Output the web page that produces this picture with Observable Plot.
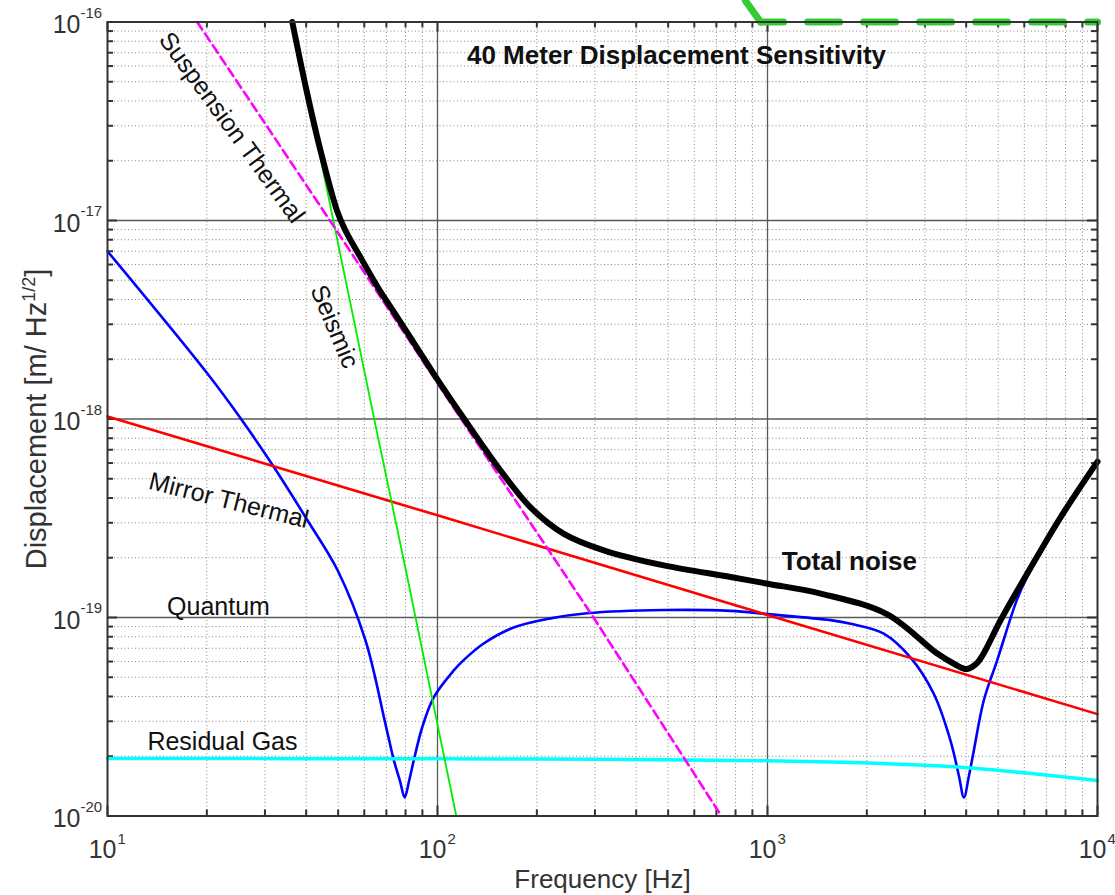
<!DOCTYPE html>
<html><head><meta charset="utf-8">
<script src="https://cdn.jsdelivr.net/npm/d3@7"></script>
<script src="https://cdn.jsdelivr.net/npm/@observablehq/plot@0.6"></script>
<style>html,body{margin:0;padding:0;background:#fff;overflow:hidden}</style>
</head><body><div id="chart"></div>
<script>
// ---- tick labels ----
const xTicks = [10, 100, 1000, 10000];
const xTickExp = ["1", "2", "3", "4"];
const yTicks = [1e-20, 1e-19, 1e-18, 1e-17, 1e-16];
const yTickExp = ["-20", "-19", "-18", "-17", "-16"];

// ---- series (frequency [Hz], displacement [m/Hz^1/2]) ----
const totalF = [36.3, 40.3, 44.2, 49.6, 52.6, 58.5, 66, 73.8, 86, 100, 117.6, 135, 151.6, 191, 241.5, 319, 485, 773, 1000, 1450, 2300, 3260, 3673, 4020, 4316, 4522, 5080, 6120, 7730, 10000];
const totalY = [1e-16, 4.35e-17, 2.25e-17, 1.12e-17, 8.9e-18, 6.5e-18, 4.6e-18, 3.45e-18, 2.33e-18, 1.58e-18, 1.06e-18, 7.6e-19, 5.8e-19, 3.6e-19, 2.64e-19, 2.18e-19, 1.83e-19, 1.6e-19, 1.48e-19, 1.32e-19, 1.04e-19, 6.6e-20, 5.85e-20, 5.5e-20, 5.9e-20, 6.6e-20, 9.66e-20, 1.66e-19, 3.2e-19, 6.1e-19];

const quantumF = [10, 20.1, 25.4, 32.0, 40.4, 49.8, 60.5, 69.5, 73.8, 77, 79.5, 82, 84.7, 89.9, 97.5, 112, 120, 138, 170, 220, 284, 485, 773, 1000, 1553, 1787, 2250, 2710, 3190, 3585, 3800, 3937, 4080, 4220, 4522, 4963, 5691, 6120, 7730, 10000];
const quantumY = [7.0e-18, 1.69e-18, 1.0e-18, 5.7e-19, 3.08e-19, 1.73e-19, 7.66e-20, 2.92e-20, 1.9e-20, 1.5e-20, 1.24e-20, 1.5e-20, 1.9e-20, 2.8e-20, 3.97e-20, 5.41e-20, 6.1e-20, 7.4e-20, 8.9e-20, 9.9e-20, 1.05e-19, 1.09e-19, 1.08e-19, 1.04e-19, 9.7e-20, 9.3e-20, 8.3e-20, 6.3e-20, 4.13e-20, 2.4e-20, 1.6e-20, 1.24e-20, 1.6e-20, 2.14e-20, 3.82e-20, 6.07e-20, 1.22e-19, 1.6e-19, 3.1e-19, 6.0e-19];

const gasF = [10, 100, 300, 1000, 1790, 3000, 4030, 6000, 10000];
const gasY = [1.95e-20, 1.94e-20, 1.93e-20, 1.9e-20, 1.86e-20, 1.8e-20, 1.75e-20, 1.65e-20, 1.51e-20];

const mirrorF = [10, 100, 1000, 10000];
const mirrorY = [1.03e-18, 3.27e-19, 1.03e-19, 3.26e-20];

const seismicF = [36.3, 43.1, 64.3, 80.2, 114];
const seismicY = [1e-16, 2.53e-17, 1e-18, 1.73e-19, 1e-20];

const suspF = [18.7, 47.2, 118, 297, 725];
const suspY = [1e-16, 1e-17, 1e-18, 1e-19, 1e-20];

// decorative green dashed overlay (top right)
const overlayF = [857, 953, 10000];
const overlayY = [1.28e-16, 1e-16, 1e-16];

// ---- annotation labels (anchor in data units) ----
const labelText = ["Suspension Thermal", "Seismic", "Mirror Thermal", "Quantum", "Residual Gas"];
const labelF = [23.8, 48.7, 23.3, 21.7, 22.3];
const labelY = [2.94e-17, 2.92e-18, 3.88e-19, 1.13e-19, 2.37e-20];
const labelRot = [54, 67, 14, 0, 0];

const titleText = "40 Meter Displacement Sensitivity";
const totalText = "Total noise";
const xLabel = "Frequency [Hz]";
const yLabel = "Displacement [m/ Hz1/2]";

const pts = (F, Y) => F.map((f, i) => ({f, y: Y[i]}));

const W = 1115, H = 895;
const mL = 107, mR = 18, mT = 21.5, mB = 79.5;
const innerW = W - mL - mR, innerH = H - mT - mB;

const isDecade = v => Math.abs(Math.log10(v) - Math.round(Math.log10(v))) < 1e-6;
const xAll = d3.scaleLog().domain([10, 1e4]).ticks();
const yAll = d3.scaleLog().domain([1e-20, 1e-16]).ticks();
const xMinor = xAll.filter(v => !isDecade(v));
const yMinor = yAll.filter(v => !isDecade(v));
const xInner = xTicks.slice(1, -1);
const yInner = yTicks.slice(1, -1);

const gridMinor = {stroke: "#8a8a8a", strokeWidth: 1, strokeDasharray: "1,2.5"};
const gridMajor = {stroke: "#5a5a5a", strokeWidth: 1.3};
const tk = {stroke: "#333", strokeWidth: 2};
const font = "Liberation Sans, Arial, Helvetica, sans-serif";

const plot = Plot.plot({
  width: W, height: H,
  marginLeft: mL, marginRight: mR, marginTop: mT, marginBottom: mB,
  style: {fontFamily: font, background: "white", overflow: "visible"},
  x: {type: "log", domain: [10, 1e4], axis: null},
  y: {type: "log", domain: [1e-20, 1e-16], axis: null},
  marks: [
    // grid
    Plot.ruleX(xMinor, gridMinor),
    Plot.ruleY(yMinor, gridMinor),
    Plot.ruleX(xInner, gridMajor),
    Plot.ruleY(yInner, gridMajor),
    // inward ticks
    Plot.tickX(xMinor, {x: d => d, insetTop: innerH - 6, ...tk}),
    Plot.tickX(xMinor, {x: d => d, insetBottom: innerH - 6, ...tk}),
    Plot.tickX(xTicks, {x: d => d, insetTop: innerH - 10, ...tk}),
    Plot.tickX(xTicks, {x: d => d, insetBottom: innerH - 10, ...tk}),
    Plot.tickY(yMinor, {y: d => d, insetRight: innerW - 6, ...tk}),
    Plot.tickY(yMinor, {y: d => d, insetLeft: innerW - 6, ...tk}),
    Plot.tickY(yTicks, {y: d => d, insetRight: innerW - 10, ...tk}),
    Plot.tickY(yTicks, {y: d => d, insetLeft: innerW - 10, ...tk}),
    // curves
    Plot.line(pts(quantumF, quantumY), {x: "f", y: "y", stroke: "#0000ff", strokeWidth: 2.6, curve: "catmull-rom"}),
    Plot.line(pts(gasF, gasY), {x: "f", y: "y", stroke: "#00ffff", strokeWidth: 3.5, curve: "catmull-rom"}),
    Plot.line(pts(mirrorF, mirrorY), {x: "f", y: "y", stroke: "#ff0000", strokeWidth: 2.6}),
    Plot.line(pts(seismicF, seismicY), {x: "f", y: "y", stroke: "#00ee00", strokeWidth: 1.8}),
    Plot.line(pts(suspF, suspY), {x: "f", y: "y", stroke: "#ff00ff", strokeWidth: 2.6, strokeDasharray: "9,5"}),
    Plot.line(pts(totalF, totalY), {x: "f", y: "y", stroke: "#000", strokeWidth: 6, curve: "catmull-rom", strokeLinejoin: "round"}),
    // overlay
    Plot.line(pts(overlayF.slice(0, 2), overlayY.slice(0, 2)), {x: "f", y: "y", stroke: "#33cc33", strokeWidth: 7}),
    Plot.line(pts(overlayF.slice(1), overlayY.slice(1)), {x: "f", y: "y", stroke: "#33cc33", strokeWidth: 7, strokeDasharray: "32,24", strokeDashoffset: 9}),
    // labels
    Plot.text(labelText, {x: (d, i) => labelF[i], y: (d, i) => labelY[i], text: d => d, rotate: (d, i) => labelRot[i], fontSize: 25, fill: "#111"}),
    Plot.text([titleText], {x: () => 530, y: () => 6.78e-17, text: d => d, fontSize: 26, fontWeight: "bold", fill: "#111"}),
    Plot.text([totalText], {x: () => 1770, y: () => 1.91e-19, text: d => d, fontSize: 26, fontWeight: "bold", fill: "#111"}),
    // tick labels
    Plot.text(xTicks, {x: d => d, frameAnchor: "bottom", lineAnchor: "middle", text: () => "10", textAnchor: "end", dx: 9, dy: 34, fontSize: 25, fill: "#333"}),
    Plot.text(xTicks, {x: d => d, frameAnchor: "bottom", lineAnchor: "middle", text: (d, i) => xTickExp[i], textAnchor: "start", dx: 10, dy: 23, fontSize: 15, fill: "#333"}),
    Plot.text(yTicks, {y: d => d, frameAnchor: "left", lineAnchor: "middle", text: () => "10", textAnchor: "end", dx: -27, dy: 3, fontSize: 25, fill: "#333"}),
    Plot.text(yTicks, {y: d => d, frameAnchor: "left", lineAnchor: "middle", text: (d, i) => yTickExp[i], textAnchor: "start", dx: -27, dy: -9, fontSize: 15, fill: "#333"}),
    // axis titles
    Plot.text([xLabel], {frameAnchor: "bottom", lineAnchor: "middle", textAnchor: "middle", text: d => d, dy: 64, fontSize: 26, fill: "#333"}),
    Plot.text([yLabel], {frameAnchor: "left", lineAnchor: "middle", textAnchor: "middle", text: d => d, rotate: -90, dx: -71, fontSize: 29, fill: "#333"}),
    Plot.frame({stroke: "#333", strokeWidth: 2})
  ]
});

// superscript in the y-axis title
d3.select(plot).selectAll("text").filter(function () { return this.textContent === yLabel; }).each(function () {
  const t = d3.select(this);
  t.text(null).attr("text-anchor", "middle");
  t.append("tspan").text("Displacement [m/ Hz");
  t.append("tspan").attr("dy", -11).attr("font-size", 18).text("1/2");
  t.append("tspan").attr("dy", 11).text("]");
});

document.getElementById("chart").appendChild(plot);
</script>
</body></html>
